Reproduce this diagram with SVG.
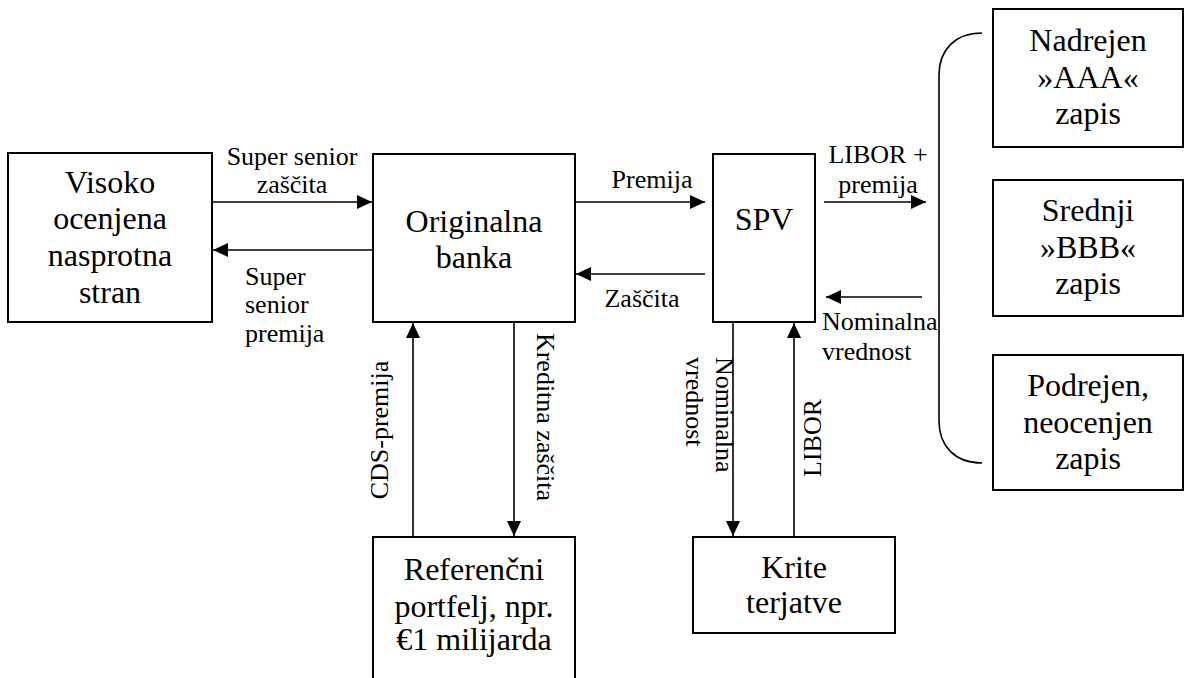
<svg xmlns="http://www.w3.org/2000/svg" width="1185" height="678" viewBox="0 0 1185 678">
<style>
.box{fill:#fff;stroke:#000;stroke-width:2}
.t{font-family:"Liberation Serif","Times New Roman",serif;font-size:32px;fill:#000;text-anchor:middle}
.l{font-family:"Liberation Serif","Times New Roman",serif;font-size:26px;fill:#000}
.c{stroke:#000;stroke-width:1.6;fill:none}
</style>
<defs>
<marker id="ah" markerUnits="userSpaceOnUse" markerWidth="16" markerHeight="14" refX="15" refY="7" orient="auto">
<path d="M0,0 L15,7 L0,14 Z" fill="#000"/>
</marker>
</defs>
<rect width="1185" height="678" fill="#fff"/>
<g id="connectors">
<line class="c" x1="212" y1="202" x2="372" y2="202" marker-end="url(#ah)"/>
<line class="c" x1="373" y1="250" x2="213" y2="250" marker-end="url(#ah)"/>
<line class="c" x1="575" y1="202" x2="705" y2="202" marker-end="url(#ah)"/>
<line class="c" x1="705" y1="274" x2="576" y2="274" marker-end="url(#ah)"/>
<line class="c" x1="824" y1="202" x2="926" y2="202" marker-end="url(#ah)"/>
<line class="c" x1="922" y1="297" x2="826" y2="297" marker-end="url(#ah)"/>
<line class="c" x1="413" y1="537" x2="413" y2="323" marker-end="url(#ah)"/>
<line class="c" x1="514" y1="322" x2="514" y2="536" marker-end="url(#ah)"/>
<line class="c" x1="733" y1="322" x2="733" y2="536" marker-end="url(#ah)"/>
<line class="c" x1="794" y1="537" x2="794" y2="323" marker-end="url(#ah)"/>
<path class="c" d="M982,33 C955,33 939,50 939,75 L939,421 C939,446 955,463 982,463"/>
</g>
<g id="labels">
<text class="l" x="292" y="165" text-anchor="middle">Super senior</text>
<text class="l" x="292" y="193" text-anchor="middle">zaščita</text>
<text class="l" x="245" y="285">Super</text>
<text class="l" x="245" y="313">senior</text>
<text class="l" x="245" y="342">premija</text>
<text class="l" x="652" y="188" text-anchor="middle">Premija</text>
<text class="l" x="642" y="307" text-anchor="middle">Zaščita</text>
<text class="l" x="878" y="163" text-anchor="middle">LIBOR +</text>
<text class="l" x="878" y="193" text-anchor="middle">premija</text>
<text class="l" x="822" y="330">Nominalna</text>
<text class="l" x="822" y="360">vrednost</text>
<text class="l" transform="translate(388,430) rotate(-90)" text-anchor="middle">CDS-premija</text>
<text class="l" transform="translate(537,417) rotate(90)" text-anchor="middle">Kreditna zaščita</text>
<text class="l" transform="translate(716,357) rotate(90)">Nominalna</text>
<text class="l" transform="translate(686,357) rotate(90)">vrednost</text>
<text class="l" transform="translate(821,438) rotate(-90)" text-anchor="middle">LIBOR</text>
</g>
<g id="node-visoko">
<rect class="box" x="8" y="153" width="204" height="169"/>
<text class="t" x="110" y="193">Visoko</text>
<text class="t" x="110" y="229">ocenjena</text>
<text class="t" x="110" y="266">nasprotna</text>
<text class="t" x="110" y="303">stran</text>
</g>
<g id="node-banka">
<rect class="box" x="373" y="154" width="202" height="168"/>
<text class="t" x="474" y="232">Originalna</text>
<text class="t" x="474" y="268">banka</text>
</g>
<g id="node-spv">
<rect class="box" x="713" y="154" width="102" height="168"/>
<text class="t" x="764" y="230">SPV</text>
</g>
<g id="node-aaa">
<rect class="box" x="993" y="9" width="190" height="138"/>
<text class="t" x="1088" y="51">Nadrejen</text>
<text class="t" x="1088" y="88">»AAA«</text>
<text class="t" x="1088" y="124">zapis</text>
</g>
<g id="node-bbb">
<rect class="box" x="993" y="180" width="190" height="136"/>
<text class="t" x="1088" y="221">Srednji</text>
<text class="t" x="1088" y="258">»BBB«</text>
<text class="t" x="1088" y="294">zapis</text>
</g>
<g id="node-podrejen">
<rect class="box" x="993" y="355" width="190" height="135"/>
<text class="t" x="1088" y="396">Podrejen,</text>
<text class="t" x="1088" y="433">neocenjen</text>
<text class="t" x="1088" y="469">zapis</text>
</g>
<g id="node-referencni">
<path class="box" d="M373,690 L373,537 L575,537 L575,690"/>
<text class="t" x="474" y="580">Referenčni</text>
<text class="t" x="474" y="617">portfelj, npr.</text>
<text class="t" x="474" y="650">€1 milijarda</text>
</g>
<g id="node-krite">
<rect class="box" x="693" y="537" width="202" height="96"/>
<text class="t" x="794" y="578">Krite</text>
<text class="t" x="794" y="613">terjatve</text>
</g>
</svg>
